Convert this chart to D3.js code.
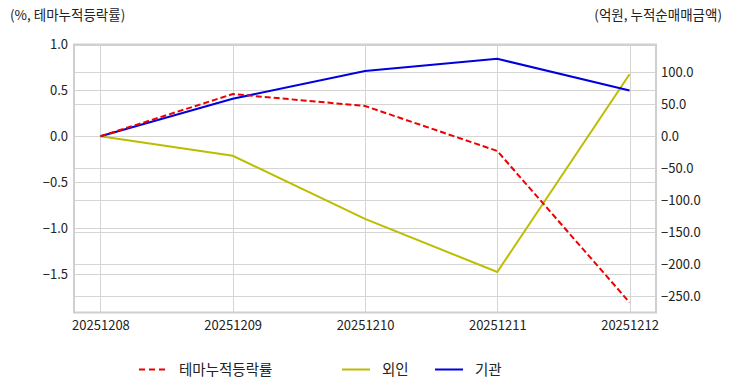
<!DOCTYPE html>
<html><head><meta charset="utf-8">
<script src="https://cdn.jsdelivr.net/npm/d3@7/dist/d3.min.js"></script>
<style>
html,body{margin:0;padding:0;background:#fff;}
text{font-family:"Noto Sans CJK KR","Noto Sans",sans-serif;fill:#222;}
</style></head>
<body>
<svg id="c" width="732" height="392"></svg>
<script>
const categories = ["20251208","20251209","20251210","20251211","20251212"];
const themeReturn = [0.0, 0.46, 0.33, -0.16, -1.81];
const foreign = [0.0, -30.5, -129, -212, 97];
const institution = [0.0, 58.6, 102, 121, 71.6];
const leftTicks = [1.0, 0.5, 0.0, -0.5, -1.0, -1.5];
const rightTicks = [100, 50, 0, -50, -100, -150, -200, -250];
const seriesNames = ["테마누적등락률", "외인", "기관"];
const seriesColors = ["#ee0000", "#bdbd00", "#0000dd"];

const svg = d3.select("#c");
const L = 74, R = 656, T = 44.5, B = 312.5;

const x = d3.scalePoint().domain(categories).range([L, R]).padding(0.2);
const yL = d3.scaleLinear().domain([-1.92, 1.0]).range([B, T]);
const yR = d3.scaleLinear().domain([-275.3, 143.4]).range([B, T]);

const g = svg.append("g");
g.selectAll(".gl").data(leftTicks).enter().append("line")
  .attr("x1", L).attr("x2", R).attr("y1", d => Math.round(yL(d)) + 0.5).attr("y2", d => Math.round(yL(d)) + 0.5)
  .attr("stroke", "#d4d4d4").attr("stroke-width", 1);
g.selectAll(".gr").data(rightTicks).enter().append("line")
  .attr("x1", L).attr("x2", R).attr("y1", d => Math.round(yR(d)) + 0.5).attr("y2", d => Math.round(yR(d)) + 0.5)
  .attr("stroke", "#d4d4d4").attr("stroke-width", 1);
g.selectAll(".gv").data(categories).enter().append("line")
  .attr("y1", T).attr("y2", B).attr("x1", d => Math.round(x(d)) + 0.5).attr("x2", d => Math.round(x(d)) + 0.5)
  .attr("stroke", "#d4d4d4").attr("stroke-width", 1);
g.append("rect").attr("x", L).attr("y", T).attr("width", R - L).attr("height", B - T)
  .attr("fill", "none").attr("stroke", "#cfcfcf").attr("stroke-width", 2);

const axL = svg.append("g").attr("transform", `translate(${L},0)`)
  .call(d3.axisLeft(yL).tickValues(leftTicks).tickFormat(d3.format(".1f")).tickSize(0).tickPadding(6));
const axR = svg.append("g").attr("transform", `translate(${R},0)`)
  .call(d3.axisRight(yR).tickValues(rightTicks).tickFormat(d3.format(".1f")).tickSize(0).tickPadding(5));
const axB = svg.append("g").attr("transform", `translate(0,${B})`)
  .call(d3.axisBottom(x).tickSize(0).tickPadding(8));
[axL, axR, axB].forEach(a => {
  a.select(".domain").remove();
  a.selectAll("text").style("font-size", "13px").style("fill", "#222")
    .style("font-family", "'Noto Sans CJK KR','Noto Sans',sans-serif");
});

const lineL = d3.line().x((d, i) => x(categories[i])).y(d => yL(d));
const lineR = d3.line().x((d, i) => x(categories[i])).y(d => yR(d));
svg.append("path").datum(foreign).attr("d", lineR).attr("fill", "none")
  .attr("stroke", seriesColors[1]).attr("stroke-width", 2);
svg.append("path").datum(institution).attr("d", lineR).attr("fill", "none")
  .attr("stroke", seriesColors[2]).attr("stroke-width", 2);
svg.append("path").datum(themeReturn).attr("d", lineL).attr("fill", "none")
  .attr("stroke", seriesColors[0]).attr("stroke-width", 2).attr("stroke-dasharray", "6,3");

svg.append("text").attr("x", 10).attr("y", 20).style("font-size", "13.5px").text("(%, 테마누적등락률)");
svg.append("text").attr("x", 722).attr("y", 20).attr("text-anchor", "end").style("font-size", "13.5px").text("(억원, 누적순매매금액)");

const legendX = [139, 342, 435];
const leg = svg.append("g");
seriesNames.forEach((n, i) => {
  const ly = 369.5;
  leg.append("line").attr("x1", legendX[i]).attr("x2", legendX[i] + 28).attr("y1", ly).attr("y2", ly)
    .attr("stroke", seriesColors[i]).attr("stroke-width", 2)
    .attr("stroke-dasharray", i === 0 ? "6,4" : null);
  leg.append("text").attr("x", legendX[i] + 40).attr("y", ly).attr("dy", "0.35em")
    .style("font-size", "14.5px").text(n);
});
</script>
</body></html>
